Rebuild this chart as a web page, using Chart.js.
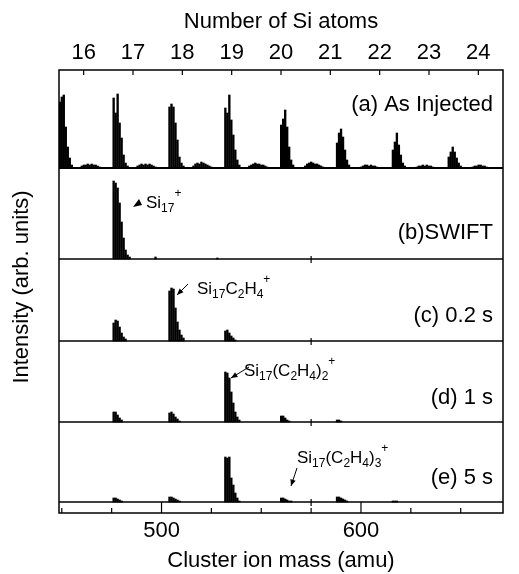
<!DOCTYPE html>
<html>
<head>
<meta charset="utf-8">
<script src="https://cdn.jsdelivr.net/npm/chart.js@4/dist/chart.umd.min.js"></script>
<style>
  html, body { margin: 0; padding: 0; background: #fff; }
</style>
</head>
<body>
<canvas id="chart" width="519" height="574"></canvas>
<script>
// axis ranges
const massMin = 448.6, massMax = 671.2;
const siMin = 16, siMax = 24;
const siTicks = [16, 17, 18, 19, 20, 21, 22, 23, 24];
const massTicks = [500, 600];
const massMinorTicks = [450, 475, 525, 550, 575, 625, 650];

const panelNames = ['(a) As Injected', '(b)SWIFT', '(c) 0.2 s', '(d) 1 s', '(e) 5 s'];

// peak groups: [first mass (amu), intensities at 1 amu steps]
const asInjected = [
  [449, [66, 71, 73, 41, 21, 10, 3]],
  [460, [2, 3, 3, 4, 3, 4, 3, 3, 2, 1]],
  [476, [70, 55, 74, 45, 30, 13, 5, 2]],
  [488, [2, 3, 4, 3, 4, 3, 4, 3, 2, 1]],
  [504, [61, 64, 61, 45, 28, 11, 5, 2]],
  [516, [2, 4, 5, 4, 6, 5, 4, 3, 2, 1]],
  [532, [60, 55, 73, 48, 33, 18, 8, 3]],
  [544, [2, 3, 4, 5, 4, 4, 3, 3, 2, 1]],
  [560, [43, 49, 58, 41, 21, 8, 3]],
  [572, [2, 4, 5, 6, 5, 4, 4, 3, 2, 1]],
  [588, [25, 35, 39, 31, 18, 8, 3]],
  [600, [1, 2, 3, 3, 2, 3, 2, 2, 1]],
  [616, [18, 26, 35, 23, 13, 5, 2]],
  [628, [1, 2, 2, 3, 2, 3, 2, 2, 1]],
  [644, [11, 16, 21, 16, 10, 5, 2]],
  [656, [1, 2, 2, 3, 3, 2, 2, 1]]
];
const swift = [
  [476, [78, 76, 71, 56, 37, 21, 9, 4, 2]],
  [497, [2]],
  [528, [1]]
];
const after02s = [
  [476, [18, 21, 20, 14, 8, 4, 2]],
  [504, [50, 53, 52, 33, 19, 11, 6, 3]],
  [532, [10, 11, 8, 5, 3, 1]]
];
const after1s = [
  [476, [10, 10, 7, 4, 2]],
  [504, [9, 10, 8, 5, 3, 1]],
  [532, [50, 49, 44, 30, 19, 10, 5, 2]],
  [560, [6, 6, 4, 2, 1]],
  [588, [2, 2, 1]]
];
const after5s = [
  [476, [4, 4, 3, 2, 1]],
  [504, [5, 5, 4, 3, 2, 1]],
  [532, [45, 44, 45, 24, 17, 9, 4, 1]],
  [560, [4, 4, 3, 2, 1, 1]],
  [588, [5, 5, 4, 3, 2, 1]],
  [616, [1, 1, 1]]
];

const spectra = [asInjected, swift, after02s, after1s, after5s];
// vertical offset of each trace in the stack
const offsets = [345, 254, 172, 91, 11];

const FONT = '"Liberation Sans", Arial, Helvetica, sans-serif';

const datasets = [];
spectra.forEach((groups, i) => {
  const pts = [];
  groups.forEach(([m0, hs]) => {
    hs.forEach((h, k) => pts.push({ x: m0 + k, y: [offsets[i], offsets[i] + h] }));
  });
  datasets.push({
    type: 'bar', data: pts, backgroundColor: '#000', borderWidth: 0,
    barThickness: 1.7, grouped: false
  });
  datasets.push({
    type: 'line',
    data: [{ x: massMin, y: offsets[i] }, { x: massMax, y: offsets[i] }],
    borderColor: '#000', borderWidth: i === 0 ? 2 : 1.5, pointRadius: 0
  });
});

function richText(ctx, parts, x, y, size) {
  // parts: [text, 0 normal | 1 sub | 2 sup]
  let cx = x;
  ctx.textAlign = 'left';
  ctx.textBaseline = 'alphabetic';
  for (const [t, mode] of parts) {
    const s = mode ? 12 : size;
    ctx.font = s + 'px ' + FONT;
    const dy = mode === 1 ? 3.5 : mode === 2 ? -11 : 0;
    ctx.fillText(t, cx, y + dy);
    cx += ctx.measureText(t).width;
  }
}

function arrow(ctx, x1, y1, x2, y2) {
  const ang = Math.atan2(y2 - y1, x2 - x1);
  ctx.beginPath();
  ctx.moveTo(x1, y1);
  ctx.lineTo(x2, y2);
  ctx.lineWidth = 1;
  ctx.stroke();
  ctx.beginPath();
  ctx.moveTo(x2, y2);
  ctx.lineTo(x2 - 7 * Math.cos(ang - 0.4), y2 - 7 * Math.sin(ang - 0.4));
  ctx.lineTo(x2 - 7 * Math.cos(ang + 0.4), y2 - 7 * Math.sin(ang + 0.4));
  ctx.closePath();
  ctx.fill();
}

const frame = {
  id: 'frame',
  afterDraw(chart) {
    const { ctx, chartArea: a, scales } = chart;
    const x = scales.x, x2 = scales.x2, y = scales.y;
    ctx.save();
    ctx.strokeStyle = '#000';
    ctx.fillStyle = '#000';
    ctx.lineWidth = 1.5;
    ctx.strokeRect(a.left, a.top, a.right - a.left, a.bottom - a.top);

    // bottom ticks (inward)
    ctx.lineWidth = 1.2;
    massTicks.forEach(v => {
      const px = x.getPixelForValue(v);
      ctx.beginPath(); ctx.moveTo(px, a.bottom); ctx.lineTo(px, a.bottom - 11); ctx.stroke();
    });
    massMinorTicks.forEach(v => {
      const px = x.getPixelForValue(v);
      ctx.beginPath(); ctx.moveTo(px, a.bottom); ctx.lineTo(px, a.bottom - 5); ctx.stroke();
    });
    // small marks left on the lower traces at 575 amu
    const px575 = x.getPixelForValue(575);
    offsets.slice(1).forEach(o => {
      const py = y.getPixelForValue(o);
      ctx.beginPath(); ctx.moveTo(px575, py - 3); ctx.lineTo(px575, py + 4); ctx.stroke();
    });
    // top ticks (inward)
    siTicks.forEach(v => {
      const px = x2.getPixelForValue(v);
      ctx.beginPath(); ctx.moveTo(px, a.top); ctx.lineTo(px, a.top + 5); ctx.stroke();
    });

    ctx.font = '22px ' + FONT;
    ctx.textAlign = 'center';
    ctx.textBaseline = 'middle';
    massTicks.forEach(v => ctx.fillText(String(v), x.getPixelForValue(v), 531));
    siTicks.forEach(v => ctx.fillText(String(v), x2.getPixelForValue(v), 53));
    ctx.fillText('Cluster ion mass (amu)', (a.left + a.right) / 2, 561);
    ctx.fillText('Number of Si atoms', (a.left + a.right) / 2, 22);

    ctx.save();
    ctx.translate(22, 287);
    ctx.rotate(-Math.PI / 2);
    ctx.fillText('Intensity (arb. units)', 0, 0);
    ctx.restore();

    // panel labels
    ctx.textAlign = 'right';
    const labelY = [105, 233, 316, 398, 478];
    panelNames.forEach((t, i) => ctx.fillText(t, 493, labelY[i]));

    // peak annotations
    ctx.beginPath();
    ctx.moveTo(133, 207); ctx.lineTo(139, 199); ctx.lineTo(142, 205); ctx.closePath();
    ctx.fill();
    richText(ctx, [['Si', 0], ['17', 1], ['+', 2]], 146, 208, 17);

    arrow(ctx, 188, 284, 177, 295);
    richText(ctx, [['Si', 0], ['17', 1], ['C', 0], ['2', 1], ['H', 0], ['4', 1], ['+', 2]], 197, 294, 17);

    arrow(ctx, 249, 367, 231, 378);
    richText(ctx, [['Si', 0], ['17', 1], ['(C', 0], ['2', 1], ['H', 0], ['4', 1], [')', 0], ['2', 1], ['+', 2]], 244, 376, 17);

    arrow(ctx, 297, 468, 291, 486);
    richText(ctx, [['Si', 0], ['17', 1], ['(C', 0], ['2', 1], ['H', 0], ['4', 1], [')', 0], ['3', 1], ['+', 2]], 297, 463, 17);

    ctx.restore();
  }
};

new Chart(document.getElementById('chart'), {
  type: 'bar',
  data: { datasets },
  options: {
    responsive: false,
    animation: false,
    events: [],
    layout: { padding: { left: 59, right: 16, top: 70, bottom: 61 } },
    plugins: { legend: { display: false }, tooltip: { enabled: false } },
    scales: {
      x: { type: 'linear', min: massMin, max: massMax, offset: false, display: false },
      x2: { type: 'linear', position: 'top', min: siMin, max: siMax, display: false },
      y: { type: 'linear', min: 0, max: 443, display: false }
    }
  },
  plugins: [frame]
});
</script>
</body>
</html>
